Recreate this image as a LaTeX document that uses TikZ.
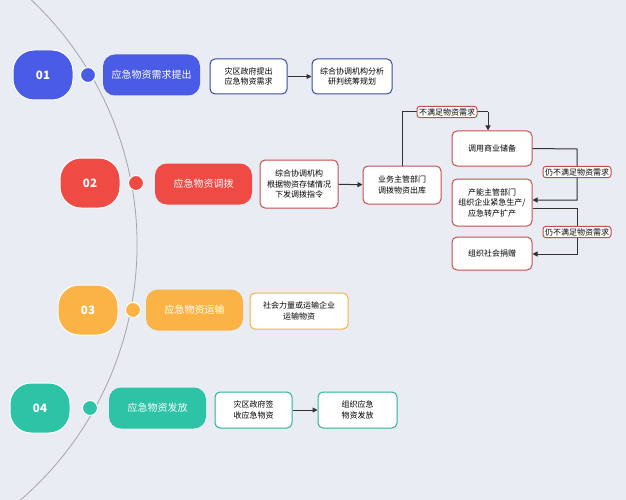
\documentclass[tikz,border=0pt]{standalone}
\usepackage{fontspec}
\setmainfont{Noto Sans CJK SC}
\usetikzlibrary{arrows.meta,positioning,shapes.geometric}
\definecolor{bg}{HTML}{E9ECF3}
\definecolor{cb}{HTML}{4A5CE6}\definecolor{cbd}{HTML}{3D4B9E}
\definecolor{cr}{HTML}{EF4B44}\definecolor{crd}{HTML}{C4504C}
\definecolor{co}{HTML}{FBB346}\definecolor{cod}{HTML}{F2B33F}
\definecolor{ct}{HTML}{2CC3A6}\definecolor{ctd}{HTML}{2AB39A}
\begin{document}
\begin{tikzpicture}[x=1pt,y=-1pt,
 num/.style={rectangle,rounded corners=21pt,minimum width=60pt,minimum height=50pt,text=white,font=\bfseries\fontsize{11.5}{12}\selectfont,draw=white,line width=1pt},
 dotc/.style={circle,minimum size=15pt,inner sep=0pt,draw=white,line width=1pt},
 pill/.style={rounded corners=12pt,minimum width=97pt,minimum height=41pt,text=white,font=\fontsize{10}{11}\selectfont},
 box/.style={rounded corners=5pt,fill=white,line width=1pt,align=center,font=\fontsize{8}{10.5}\selectfont,inner sep=2pt},
 lab/.style={rounded corners=3pt,fill=white,draw=crd,line width=1pt,font=\fontsize{8}{9}\selectfont,inner sep=2pt},
 arr/.style={-{Triangle[length=5pt,width=5pt]},line width=1pt,draw=black!80}]
\fill[bg] (0,0) rectangle (626,500);
\useasboundingbox (0,0) rectangle (626,500);
\draw[gray!70,line width=0.8pt] (-200,245) ++(62:337) arc[start angle=62,end angle=-62,radius=337];
% row 1
\node[num,fill=cb] (n1) at (43,75) {01};
\node[dotc,fill=cb] (d1) at (88,75) {};
\node[pill,fill=cb] (p1) at (151.5,75) {应急物资需求提出};
\node[box,draw=cbd,minimum width=77pt,minimum height=35pt] (a1) at (248.5,76.5) {灾区政府提出\\应急物资需求};
\node[box,draw=cbd,minimum width=80pt,minimum height=35pt] (b1) at (352,76.5) {综合协调机构分析\\研判统筹规划};
\draw[arr] (a1) -- (b1);
% row 2
\node[num,fill=cr] (n2) at (90,183) {02};
\node[dotc,fill=cr] (d2) at (136,183) {};
\node[pill,fill=cr] (p2) at (203.5,184) {应急物资调拨};
\node[box,draw=crd,minimum width=78pt,minimum height=48pt] (a2) at (299,184) {综合协调机构\\根据物资存储情况\\下发调拨指令};
\node[box,draw=crd,minimum width=78pt,minimum height=38pt] (b2) at (402,185) {业务主管部门\\调拨物资出库};
\draw[arr] (a2) -- (b2);
\node[box,draw=crd,minimum width=80pt,minimum height=35pt] (s1) at (492,148.5) {调用商业储备};
\node[box,draw=crd,minimum width=80pt,minimum height=47pt] (s2) at (492,202.5) {产能主管部门\\组织企业紧急生产/\\应急转产扩产};
\node[box,draw=crd,minimum width=80pt,minimum height=33pt] (s3) at (492,253.5) {组织社会捐赠};
\coordinate (t1) at (488,112);
\draw[line width=1pt,draw=black!80] (b2.north) |- (t1);
\draw[arr] (t1) -- (s1.north -| t1);
\node[lab] (l1) at (447,112) {不满足物资需求};
\coordinate (r1) at (577,149);
\coordinate (r2) at (577,200);
\draw[arr] (s1.east) -- (r1) -- (r2) -- (s2.east |- r2);
\node[lab] (l2) at (577,172) {仍不满足物资需求};
\coordinate (r3) at (577,208);
\coordinate (r4) at (577,254);
\draw[arr] (s2.east |- r3) -- (r3) -- (r4) -- (s3.east |- r4);
\node[lab] (l3) at (577,232) {仍不满足物资需求};
% row 3
\node[num,fill=co] (n3) at (88,310) {03};
\node[dotc,fill=co] (d3) at (133,310) {};
\node[pill,fill=co] (p3) at (194.5,310) {应急物资运输};
\node[box,draw=cod,minimum width=98pt,minimum height=36pt] (a3) at (299,311) {社会力量或运输企业\\运输物资};
% row 4
\node[num,fill=ct] (n4) at (40,408) {04};
\node[dotc,fill=ct] (d4) at (90,408) {};
\node[pill,fill=ct] (p4) at (157.5,408) {应急物资发放};
\node[box,draw=ctd,minimum width=77pt,minimum height=36pt] (a4) at (253.5,410) {灾区政府签\\收应急物资};
\node[box,draw=ctd,minimum width=79pt,minimum height=36pt] (b4) at (357.5,410) {组织应急\\物资发放};
\draw[arr] (a4) -- (b4);
\end{tikzpicture}
\end{document}
